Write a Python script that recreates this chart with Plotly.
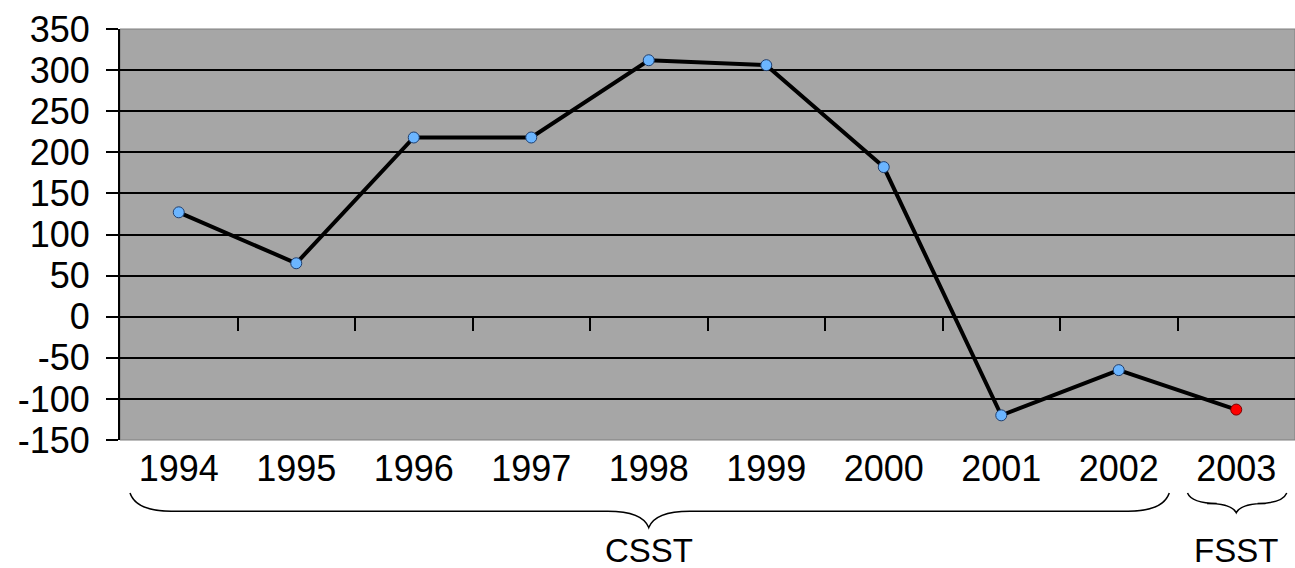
import plotly.graph_objects as go

years = ["1994", "1995", "1996", "1997", "1998", "1999", "2000", "2001", "2002", "2003"]
values = [127, 65, 218, 218, 312, 306, 182, -120, -65, -113]
marker_colors = ["#6BB5FF"] * 9 + ["#FF0000"]
marker_edges = ["#1F3F6F"] * 9 + ["#7A0000"]
groups = [("CSST", 0, 8, 0.21), ("FSST", 9, 9, 0.12)]
y_ticks = list(range(-150, 351, 50))
y_ticktext = [str(v) for v in y_ticks]

FONT = "Liberation Sans, Arial, sans-serif"
xs = list(range(len(years)))

fig = go.Figure()
fig.add_trace(go.Scatter(
    x=xs, y=values, mode="lines+markers",
    line=dict(color="black", width=4),
    marker=dict(size=11, color=marker_colors, line=dict(color=marker_edges, width=1)),
    showlegend=False, hoverinfo="x+y",
))
# helper trace for the category tick axis drawn at y=0
fig.add_trace(go.Scatter(x=[0], y=[0], xaxis="x2", mode="markers",
                         marker=dict(opacity=0), showlegend=False, hoverinfo="skip"))

y0 = -150
y1 = 350
zero_pos = (0 - y0) / (y1 - y0)

shapes = [dict(type="rect", xref="paper", yref="paper", x0=0, x1=1, y0=0, y1=1,
               line=dict(color="#7F7F7F", width=1), layer="below")]
annotations = []
for name, s, e, depth in groups:
    xl = s - 0.415
    xr = e + 0.43
    xc = (s + e) / 2
    ytop = -0.129
    yh = ytop - depth * 0.21
    yp = ytop - depth * 0.40
    span = min(0.35, (xc - xl) * 0.6)
    path = (f"M {xl},{ytop} Q {xl + span*0.15},{yh} {xl + span},{yh} "
            f"L {xc - span},{yh} Q {xc - span*0.15},{yh} {xc},{yp} "
            f"Q {xc + span*0.15},{yh} {xc + span},{yh} "
            f"L {xr - span},{yh} Q {xr - span*0.15},{yh} {xr},{ytop}")
    shapes.append(dict(type="path", xref="x", yref="paper", path=path,
                       line=dict(color="black", width=1.5)))
    annotations.append(dict(x=xc, y=-0.268, xref="x", yref="paper", text=name,
                            showarrow=False, font=dict(size=33, color="black", family=FONT),
                            xanchor="center", yanchor="middle"))

fig.update_layout(
    width=1295, height=568,
    margin=dict(l=120, r=0, t=29, b=128, autoexpand=False),
    paper_bgcolor="white", plot_bgcolor="#A6A6A6",
    font=dict(family=FONT, color="black", size=36),
    xaxis=dict(range=[-0.5, len(years) - 0.5], tickmode="array", tickvals=xs, ticktext=years,
               showgrid=False, zeroline=False, showline=False, ticks="",
               tickfont=dict(size=36), ticklabelstandoff=4, automargin=False),
    xaxis2=dict(overlaying="x", anchor="free", position=zero_pos,
                range=[-0.5, len(years) - 0.5], tickmode="array",
                tickvals=[i + 0.5 for i in range(len(years) - 1)],
                ticks="outside", ticklen=13, tickwidth=2, tickcolor="black",
                showticklabels=False, showgrid=False, zeroline=False, showline=False,
                automargin=False),
    yaxis=dict(range=[y0, y1], tickmode="array", tickvals=y_ticks, ticktext=y_ticktext,
               showgrid=True, gridcolor="black", gridwidth=1.5,
               zeroline=True, zerolinecolor="black", zerolinewidth=1.5,
               showline=True, linecolor="black", linewidth=2,
               ticks="outside", ticklen=12, tickwidth=2, tickcolor="black",
               tickfont=dict(size=36), ticklabelstandoff=9, automargin=False),
    shapes=shapes, annotations=annotations,
)

fig.write_html("out.html", config={"displayModeBar": False},
               post_script="document.body.style.margin='0';document.body.style.overflow='hidden';")
